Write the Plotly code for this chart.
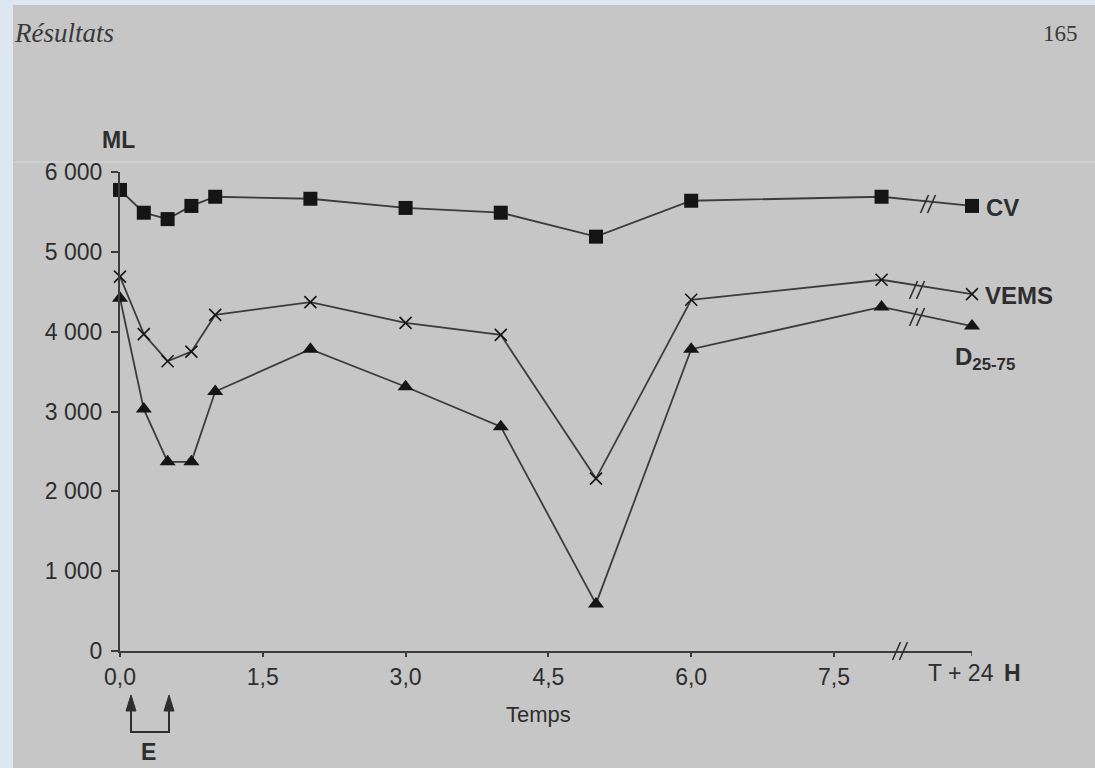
import plotly.graph_objects as go

# ---- data ----
time_pos = [0, 0.25, 0.5, 0.75, 1.0, 2.0, 3.0, 4.0, 5.0, 6.0, 8.0, 8.95]
cv = [5775, 5490, 5410, 5575, 5690, 5665, 5550, 5490, 5190, 5640, 5690, 5575]
vems = [4690, 3970, 3630, 3750, 4210, 4370, 4110, 3960, 2160, 4400, 4650, 4470]
d2575 = [4420, 3030, 2370, 2370, 3250, 3780, 3310, 2810, 590, 3780, 4310, 4070]
x_tickvals = [0, 1.5, 3.0, 4.5, 6.0, 7.5]
x_ticktext = ["0,0", "1,5", "3,0", "4,5", "6,0", "7,5"]
last_pos = 8.95
last_label = "T + 24"
y_tickvals = [0, 1000, 2000, 3000, 4000, 5000, 6000]
y_ticktext = ["0", "1 000", "2 000", "3 000", "4 000", "5 000", "6 000"]

INK = "#2e2e2e"
LINE = "#3c3c3c"
FONT = "Liberation Sans"

# pixel -> paper helpers (plot area: x 120..972, y 172..651)
L, R, T, B = 120, 972, 172, 651
W, H = R - L, B - T
def px(x):
    return (x - L) / W
def py(y):
    return (B - y) / H

fig = go.Figure()

def add_series(y, symbol, size, lw=0):
    fig.add_trace(go.Scatter(
        x=time_pos, y=y, mode="lines+markers",
        line=dict(color=LINE, width=1.8),
        marker=dict(symbol=symbol, size=size, color="#151515",
                    line=dict(color="#151515", width=lw)),
        cliponaxis=False, showlegend=False))

add_series(cv, "square", 14)
add_series(vems, "x-thin", 12, 1.6)
add_series(d2575, "triangle-up", 14)

shapes = []
# page background (scan)
shapes.append(dict(type="rect", xref="paper", yref="paper",
                   x0=px(13), x1=px(1095), y0=py(768), y1=py(5),
                   fillcolor="#c6c6c6", line=dict(width=0), layer="below"))
# faint scan line
shapes.append(dict(type="line", xref="paper", yref="paper",
                   x0=px(13), x1=px(1095), y0=py(162), y1=py(162),
                   line=dict(color="#d8d8d8", width=1), layer="below"))
# end tick at T + 24
shapes.append(dict(type="line", xref="x", yref="paper",
                   x0=last_pos, x1=last_pos, y0=0, y1=py(656),
                   line=dict(color=LINE, width=1.5)))
# E bracket
shapes.append(dict(type="path", xref="paper", yref="paper",
                   path=f"M {px(131)} {py(708)} L {px(131)} {py(732)} L {px(169)} {py(732)} L {px(169)} {py(708)}",
                   line=dict(color=INK, width=2)))
for x in [131, 169]:
    shapes.append(dict(type="path", xref="paper", yref="paper",
                       path=f"M {px(x-5)} {py(711)} L {px(x)} {py(695)} L {px(x+5)} {py(711)} Z",
                       fillcolor=INK, line=dict(color=INK, width=1)))
# break marks (//)
for (x, y) in [(900, 651), (928, 204), (917, 290), (917, 317)]:
    for dx in (-3.5, 3.5):
        shapes.append(dict(type="line", xref="paper", yref="paper",
                           x0=px(x + dx - 4), y0=py(y + 9), x1=px(x + dx + 4), y1=py(y - 9),
                           line=dict(color=INK, width=1.6)))

annotations = []
def txt(x, y, text, size=17, bold=False, family=FONT, xanchor="center", color=INK):
    annotations.append(dict(xref="paper", yref="paper", x=px(x), y=py(y),
                            text=(f"<b>{text}</b>" if bold else text),
                            showarrow=False, xanchor=xanchor, yanchor="middle",
                            font=dict(family=family, size=size, color=color)))

txt(12, 33, "<i>Résultats</i>", size=27, family="Liberation Serif", xanchor="left", color="#3a3a3a")
txt(1080, 33, "165", size=23, family="Liberation Serif", xanchor="right", color="#3a3a3a")
txt(100, 140, "ML", size=23, bold=True, xanchor="left")
txt(984, 208, "CV", size=24, bold=True, xanchor="left")
txt(983, 295, "VEMS", size=24, bold=True, xanchor="left")
txt(953, 358, "D<sub>25-75</sub>", size=24, bold=True, xanchor="left")
txt(961, 673, last_label, size=23, xanchor="center")
txt(1002, 673, "H", size=23, bold=True, xanchor="left")
txt(538, 714, "Temps", size=22)
txt(148, 752, "E", size=23, bold=True)

fig.update_layout(
    width=1095, height=768,
    margin=dict(l=L, r=1095 - R, t=T, b=768 - B),
    paper_bgcolor="#dde6f1", plot_bgcolor="rgba(0,0,0,0)",
    shapes=shapes, annotations=annotations,
    font=dict(family=FONT, color=INK),
)
fig.update_xaxes(range=[0, last_pos], tickvals=x_tickvals, ticktext=x_ticktext,
                 showgrid=False, zeroline=False, showline=True, linecolor=LINE,
                 linewidth=2, ticks="outside", ticklen=4, tickwidth=1.5,
                 tickcolor=LINE, ticklabelstandoff=0,
                 tickfont=dict(size=23, color=INK, family=FONT))
fig.update_yaxes(range=[0, 6000], tickvals=y_tickvals, ticktext=y_ticktext,
                 showgrid=False, zeroline=False, showline=True, linecolor=LINE,
                 linewidth=2, ticks="outside", ticklen=7, tickwidth=1.5,
                 tickcolor=LINE, ticklabelstandoff=4,
                 tickfont=dict(size=23, color=INK, family=FONT))

fig.write_html("out.html")
